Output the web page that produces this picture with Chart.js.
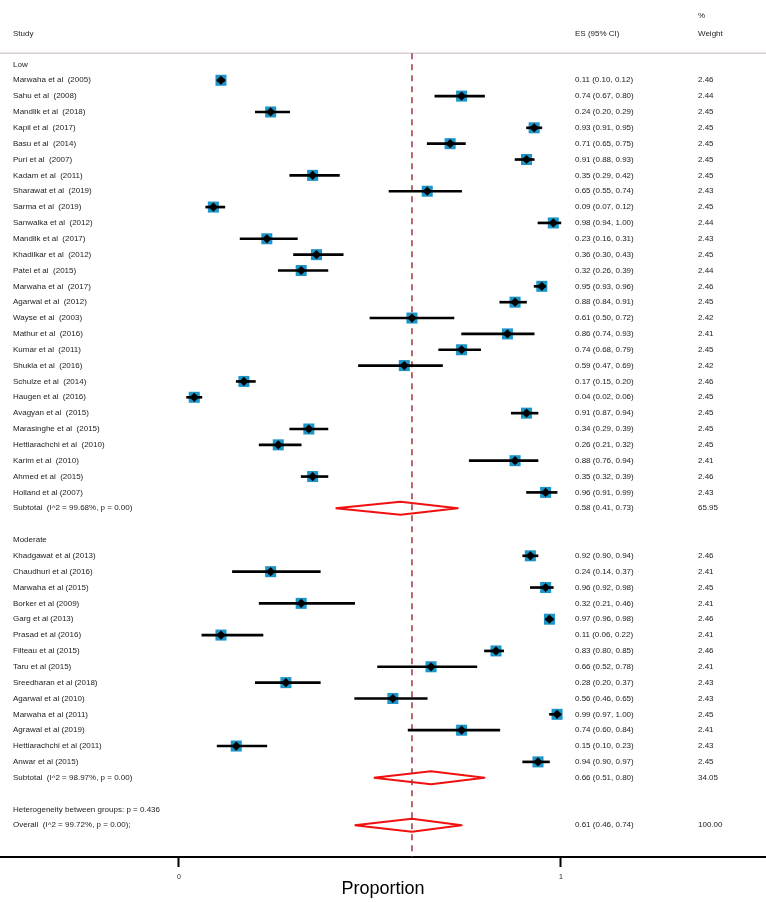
<!DOCTYPE html>
<html>
<head>
<meta charset="utf-8">
<script src="https://cdn.jsdelivr.net/npm/chart.js@4.4.0/dist/chart.umd.min.js"></script>
<style>
  body { margin: 0; background: #fff; }
  #wrap { width: 766px; height: 902px; }
</style>
</head>
<body>
<div id="wrap"><canvas id="forestChart"></canvas></div>
<script>
// 그룹 1: Low
const lowStudies = [
    'Marwaha et al  (2005)', 'Sahu et al  (2008)', 'Mandlik et al  (2018)', 'Kapil et al  (2017)',
    'Basu et al  (2014)', 'Puri et al  (2007)', 'Kadam et al  (2011)', 'Sharawat et al  (2019)',
    'Sarma et al  (2019)', 'Sanwalka et al  (2012)', 'Mandlik et al  (2017)', 'Khadilkar et al  (2012)',
    'Patel et al  (2015)', 'Marwaha et al  (2017)', 'Agarwal et al  (2012)', 'Wayse et al  (2003)',
    'Mathur et al  (2016)', 'Kumar et al  (2011)', 'Shukla et al  (2016)', 'Schulze et al  (2014)',
    'Haugen et al  (2016)', 'Avagyan et al  (2015)', 'Marasinghe et al  (2015)', 'Hettiarachchi et al  (2010)',
    'Karim et al  (2010)', 'Ahmed et al  (2015)', 'Holland et al (2007)'
];
const lowES    = [0.11, 0.74, 0.24, 0.93, 0.71, 0.91, 0.35, 0.65, 0.09, 0.98, 0.23, 0.36, 0.32, 0.95, 0.88, 0.61, 0.86, 0.74, 0.59, 0.17, 0.04, 0.91, 0.34, 0.26, 0.88, 0.35, 0.96];
const lowLower = [0.10, 0.67, 0.20, 0.91, 0.65, 0.88, 0.29, 0.55, 0.07, 0.94, 0.16, 0.30, 0.26, 0.93, 0.84, 0.50, 0.74, 0.68, 0.47, 0.15, 0.02, 0.87, 0.29, 0.21, 0.76, 0.32, 0.91];
const lowUpper = [0.12, 0.80, 0.29, 0.95, 0.75, 0.93, 0.42, 0.74, 0.12, 1.00, 0.31, 0.43, 0.39, 0.96, 0.91, 0.72, 0.93, 0.79, 0.69, 0.20, 0.06, 0.94, 0.39, 0.32, 0.94, 0.39, 0.99];
const lowWeight = [2.46, 2.44, 2.45, 2.45, 2.45, 2.45, 2.45, 2.43, 2.45, 2.44, 2.43, 2.45, 2.44, 2.46, 2.45, 2.42, 2.41, 2.45, 2.42, 2.46, 2.45, 2.45, 2.45, 2.45, 2.41, 2.46, 2.43];
const lowSubtotal = [0.58, 0.41, 0.73];
const lowSubtotalWeight = 65.95;
const lowSubtotalLabel = 'Subtotal  (I^2 = 99.68%, p = 0.00)';

// 그룹 2: Moderate
const modStudies = [
    'Khadgawat et al (2013)', 'Chaudhuri et al (2016)', 'Marwaha et al (2015)', 'Borker et al (2009)',
    'Garg et al (2013)', 'Prasad et al (2016)', 'Filteau et al (2015)', 'Taru et al (2015)',
    'Sreedharan et al (2018)', 'Agarwal et al (2010)', 'Marwaha et al (2011)', 'Agrawal et al (2019)',
    'Hettiarachchi et al (2011)', 'Anwar et al (2015)'
];
const modES    = [0.92, 0.24, 0.96, 0.32, 0.97, 0.11, 0.83, 0.66, 0.28, 0.56, 0.99, 0.74, 0.15, 0.94];
const modLower = [0.90, 0.14, 0.92, 0.21, 0.96, 0.06, 0.80, 0.52, 0.20, 0.46, 0.97, 0.60, 0.10, 0.90];
const modUpper = [0.94, 0.37, 0.98, 0.46, 0.98, 0.22, 0.85, 0.78, 0.37, 0.65, 1.00, 0.84, 0.23, 0.97];
const modWeight = [2.46, 2.41, 2.45, 2.41, 2.46, 2.41, 2.46, 2.41, 2.43, 2.43, 2.45, 2.41, 2.43, 2.45];
const modSubtotal = [0.66, 0.51, 0.80];
const modSubtotalWeight = 34.05;
const modSubtotalLabel = 'Subtotal  (I^2 = 98.97%, p = 0.00)';

// 전체
const overall = [0.61, 0.46, 0.74];
const overallWeight = 100.00;
const overallLabel = 'Overall  (I^2 = 99.72%, p = 0.00);';
const heterogeneityLabel = 'Heterogeneity between groups: p = 0.436';

const xTicks = [0, 1];
const xTitle = 'Proportion';

// 행 번호 (위에서 아래로)
const LOW_HEADER_ROW = 0;
const MOD_HEADER_ROW = 30;
const HET_ROW = 47;
const OVERALL_ROW = 48;

const fmt = v => v.toFixed(2);
const ciText = (e, l, u) => fmt(e) + ' (' + fmt(l) + ', ' + fmt(u) + ')';

const studyPoints = [];
const ciBars = [];
const textRows = [];

textRows.push({ row: -3.05, weight: '%' });
textRows.push({ row: -1.9, study: 'Study', es: 'ES (95% CI)', weight: 'Weight' });
textRows.push({ row: LOW_HEADER_ROW, study: 'Low' });

lowStudies.forEach((name, i) => {
    const row = LOW_HEADER_ROW + 1 + i;
    studyPoints.push({ x: lowES[i], y: row });
    ciBars.push({ x: [lowLower[i], lowUpper[i]], y: row });
    textRows.push({ row: row, study: name, es: ciText(lowES[i], lowLower[i], lowUpper[i]), weight: fmt(lowWeight[i]) });
});
const lowSubRow = LOW_HEADER_ROW + lowStudies.length + 1;
textRows.push({ row: lowSubRow, study: lowSubtotalLabel, es: ciText(...lowSubtotal), weight: fmt(lowSubtotalWeight) });

textRows.push({ row: MOD_HEADER_ROW, study: 'Moderate' });
modStudies.forEach((name, i) => {
    const row = MOD_HEADER_ROW + 1 + i;
    studyPoints.push({ x: modES[i], y: row });
    ciBars.push({ x: [modLower[i], modUpper[i]], y: row });
    textRows.push({ row: row, study: name, es: ciText(modES[i], modLower[i], modUpper[i]), weight: fmt(modWeight[i]) });
});
const modSubRow = MOD_HEADER_ROW + modStudies.length + 1;
textRows.push({ row: modSubRow, study: modSubtotalLabel, es: ciText(...modSubtotal), weight: fmt(modSubtotalWeight) });

textRows.push({ row: HET_ROW, study: heterogeneityLabel });
textRows.push({ row: OVERALL_ROW, study: overallLabel, es: ciText(...overall), weight: fmt(overallWeight) });

// 요약 다이아몬드 (es, lower, upper)
const DIAMOND_HALF = 0.41;
function diamond(vals, row) {
    const [e, l, u] = vals;
    return [
        { x: l, y: row }, { x: e, y: row - DIAMOND_HALF },
        { x: u, y: row }, { x: e, y: row + DIAMOND_HALF }, { x: l, y: row }
    ];
}

const Y_MIN = -4, Y_MAX = 50;
const SEPARATOR_ROW = -0.7;

const forestText = {
    id: 'forestText',
    beforeDatasetsDraw(chart) {
        const ctx = chart.ctx;
        const py = chart.scales.y.getPixelForValue(SEPARATOR_ROW);
        ctx.save();
        ctx.strokeStyle = '#d9cfd1';
        ctx.lineWidth = 1.5;
        ctx.beginPath();
        ctx.moveTo(chart.chartArea.left, py);
        ctx.lineTo(chart.chartArea.right, py);
        ctx.stroke();
        ctx.restore();
    },
    afterDatasetsDraw(chart) {
        const ctx = chart.ctx;
        const yScale = chart.scales.y;
        ctx.save();
        ctx.font = '8px "Liberation Sans", Arial, sans-serif';
        ctx.fillStyle = '#222';
        ctx.textBaseline = 'middle';
        ctx.textAlign = 'left';
        textRows.forEach(r => {
            const py = yScale.getPixelForValue(r.row);
            if (r.study) ctx.fillText(r.study, 13, py);
            if (r.es) ctx.fillText(r.es, 575, py);
            if (r.weight) ctx.fillText(r.weight, 698, py);
        });
        ctx.restore();
    }
};

const summaryStyle = {
    type: 'line',
    borderColor: '#f01010',
    borderWidth: 2,
    borderJoinStyle: 'round',
    pointRadius: 0,
    fill: false,
    tension: 0,
    order: 8
};

const ctx = document.getElementById('forestChart').getContext('2d');
const forestChart = new Chart(ctx, {
    type: 'scatter',
    data: {
        datasets: [
            {
                // 가중치 박스
                type: 'scatter',
                data: studyPoints,
                pointStyle: 'rect',
                pointRadius: 7.8,
                backgroundColor: '#1c96c8',
                borderWidth: 0,
                order: 6
            },
            {
                // 95% CI
                type: 'bar',
                indexAxis: 'y',
                data: ciBars,
                backgroundColor: '#000',
                barThickness: 2,
                borderWidth: 0,
                order: 5
            },
            {
                // 점 추정치
                type: 'scatter',
                data: studyPoints,
                pointStyle: 'rectRot',
                pointRadius: 4.6,
                backgroundColor: '#000',
                borderWidth: 0,
                order: 1
            },
            Object.assign({ data: diamond(lowSubtotal, lowSubRow) }, summaryStyle),
            Object.assign({ data: diamond(modSubtotal, modSubRow) }, summaryStyle),
            Object.assign({ data: diamond(overall, OVERALL_ROW) }, summaryStyle),
            {
                // 전체 효과 기준선
                type: 'line',
                data: [{ x: overall[0], y: SEPARATOR_ROW }, { x: overall[0], y: Y_MAX }],
                borderColor: '#a8343c',
                borderWidth: 1.5,
                borderDash: [6, 5],
                pointRadius: 0,
                fill: false,
                order: 7
            }
        ]
    },
    options: {
        responsive: true,
        maintainAspectRatio: false,
        animation: false,
        events: [],
        layout: { autoPadding: false, padding: { top: 1, left: 0, right: 0, bottom: 0 } },
        scales: {
            x: {
                type: 'linear',
                min: -0.4686,
                max: 1.537,
                offset: false,
                afterBuildTicks: scale => { scale.ticks = xTicks.map(v => ({ value: v })); },
                afterFit: scale => { scale.height = 45; },
                grid: { drawOnChartArea: false, drawTicks: true, tickLength: 10, tickWidth: 2, tickColor: '#000' },
                border: { display: true, color: '#000', width: 2 },
                ticks: {
                    padding: 6,
                    color: '#222',
                    font: { family: '"Liberation Sans", Arial, sans-serif', size: 7 },
                    callback: v => String(v)
                },
                title: {
                    display: true,
                    text: xTitle,
                    color: '#000',
                    font: { family: '"Liberation Sans", Arial, sans-serif', size: 18 },
                    padding: { top: 0, bottom: 2 }
                }
            },
            y: {
                type: 'linear',
                reverse: true,
                min: Y_MIN,
                max: Y_MAX,
                offset: false,
                display: false
            }
        },
        plugins: {
            legend: { display: false },
            tooltip: { enabled: false }
        }
    },
    plugins: [forestText]
});
</script>
</body>
</html>
